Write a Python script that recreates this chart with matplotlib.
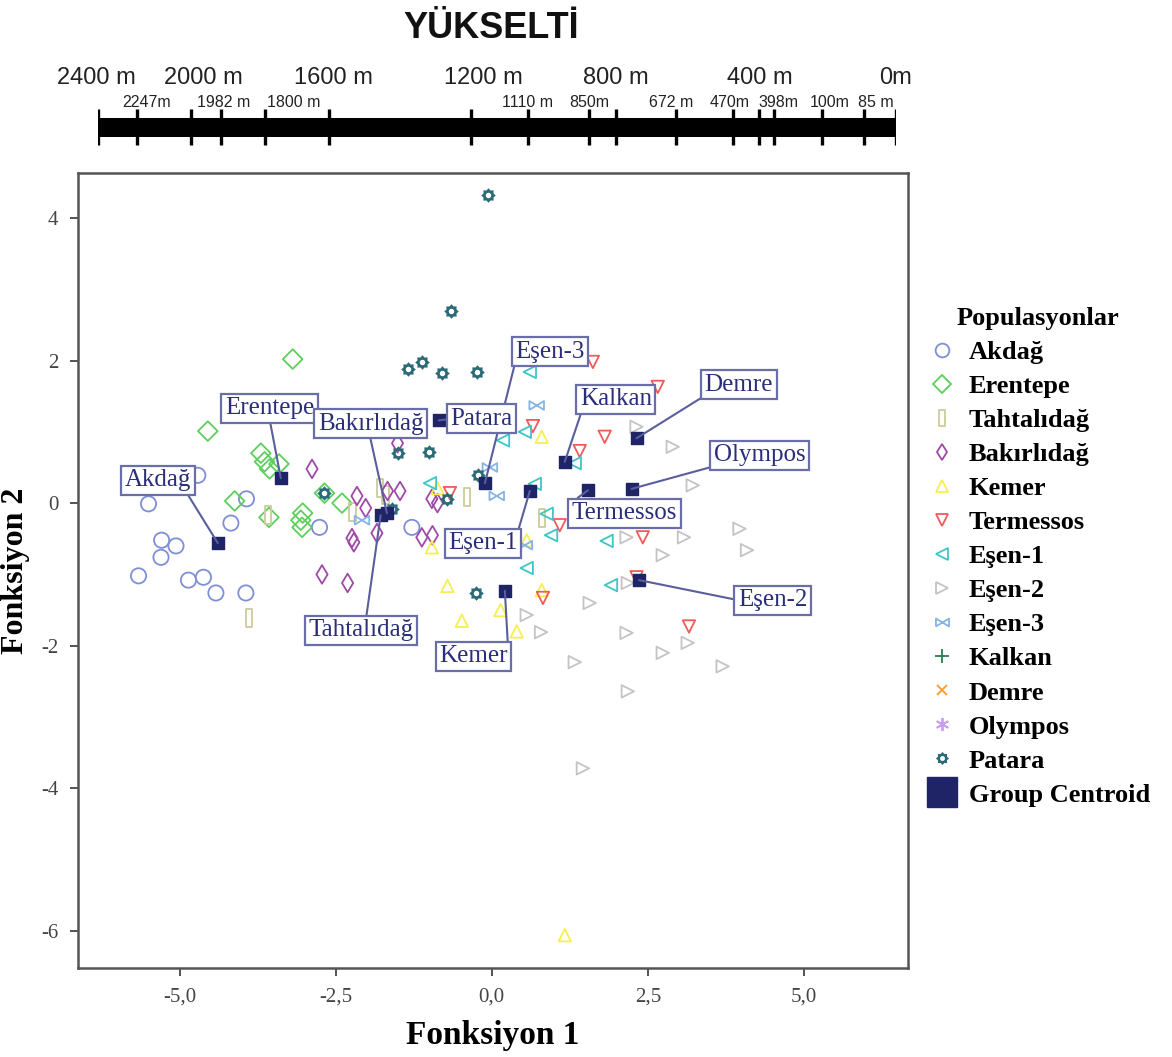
import numpy as np
import matplotlib.pyplot as plt
from matplotlib.path import Path
from matplotlib.lines import Line2D

# discriminant scores (Fonksiyon 1, Fonksiyon 2)
akdag_x = [-5.50, -4.71, -3.93, -4.18, -5.29, -5.06, -5.30, -5.66, -4.86, -4.62, -4.42, -3.94, -2.76, -1.28]
akdag_y = [-0.01, 0.39, 0.06, -0.28, -0.52, -0.60, -0.76, -1.02, -1.08, -1.04, -1.26, -1.26, -0.34, -0.34]
erentepe_x = [-3.19, -4.55, -3.70, -3.64, -3.56, -3.41, -4.12, -3.57, -3.03, -3.06, -3.04, -2.68, -2.40]
erentepe_y = [2.02, 1.01, 0.70, 0.58, 0.48, 0.55, 0.03, -0.20, -0.14, -0.24, -0.34, 0.14, 0.00]
tahtali_x = [-3.89, -3.59, -2.23, -1.79, -1.70, -0.40, 0.80]
tahtali_y = [-1.61, -0.17, -0.13, 0.21, 0.11, 0.08, -0.21]
bakirli_x = [-2.88, -2.16, -2.02, -1.67, -1.47, -1.84, -2.24, -2.21, -2.72, -2.31, -1.51, -0.96, -0.87, -1.12, -0.95]
bakirli_y = [0.48, 0.10, -0.07, 0.17, 0.17, -0.42, -0.49, -0.55, -1.00, -1.12, 0.84, 0.06, 0.00, -0.48, -0.45]
kemer_x = [-0.87, -0.96, -0.71, -0.48, 0.14, 0.40, 0.80, 0.56, 0.80, 1.17]
kemer_y = [0.21, -0.62, -1.16, -1.65, -1.50, -1.80, -1.22, -0.52, 0.93, -6.06]
termessos_x = [1.62, 2.66, 0.66, 1.81, 1.41, -0.67, 1.09, 2.42, 0.82, 3.16, 2.32]
termessos_y = [1.98, 1.63, 1.08, 0.93, 0.73, 0.14, -0.31, -0.48, -1.33, -1.73, -1.04]
esen1_x = [0.61, 0.18, 0.53, 1.33, -0.99, 0.69, 0.88, 0.95, 0.56, 1.84, 1.91]
esen1_y = [1.84, 0.88, 1.00, 0.56, 0.28, 0.27, -0.15, -0.45, -0.91, -0.53, -1.15]
esen2_x = [2.32, 2.90, 3.22, 3.97, 4.09, 2.16, 2.74, 3.08, 2.18, 1.57, 0.56, 0.79, 2.16, 1.33, 2.74, 3.14, 3.70, 2.18, 1.46]
esen2_y = [1.07, 0.79, 0.25, -0.36, -0.66, -0.48, -0.73, -0.48, -1.12, -1.40, -1.57, -1.81, -1.82, -2.23, -2.10, -1.96, -2.29, -2.64, -3.72]
esen3_x = [0.72, -0.03, 0.08, -2.08, 0.53]
esen3_y = [1.37, 0.50, 0.10, -0.24, -0.59]
kalkan_x = [2.72, 1.12, -0.16, 0.85, 0.90, 1.04, 1.49, -0.21, -0.38, -0.40, -1.91, 2.50, 4.73, 1.86, 2.45]
kalkan_y = [1.99, 1.65, 1.50, 1.33, 1.16, 0.87, 0.81, 0.74, 0.52, -0.06, 0.04, 0.25, 0.10, -0.98, -1.22]
demre_x = [2.80, 2.88, 1.51, 1.57, 1.89, 2.50, 1.99, 2.74, 2.87, 2.58]
demre_y = [3.58, 1.75, 0.93, 0.81, 0.62, 0.48, 0.32, 0.22, 0.88, -0.50]
olympos_x = [2.42, 1.73, 2.82, 2.90, 1.92, 0.16, 1.68, 2.13, 2.66, 3.01, 3.01]
olympos_y = [2.71, 1.00, 1.00, 0.66, 0.25, 0.38, -0.55, -0.83, -0.65, -0.55, -0.83]
patara_x = [-0.06, -0.66, -1.35, -1.12, -0.79, -0.24, -1.51, -1.01, -0.22, -0.71, -1.60, -2.69, -0.26]
patara_y = [4.32, 2.69, 1.88, 1.98, 1.82, 1.84, 0.70, 0.72, 0.39, 0.06, -0.08, 0.14, -1.26]

groups = ['Akdağ', 'Erentepe', 'Tahtalıdağ', 'Bakırlıdağ', 'Kemer', 'Termessos', 'Eşen-1',
          'Eşen-2', 'Eşen-3', 'Kalkan', 'Demre', 'Olympos', 'Patara']
centroid_x = [-4.39, -3.38, -1.78, -1.68, 0.21, 1.54, 0.61, 2.36, -0.11, 1.17, 2.32, 2.24, -0.85]
centroid_y = [-0.56, 0.35, -0.17, -0.14, -1.23, 0.18, 0.17, -1.08, 0.28, 0.58, 0.91, 0.20, 1.16]
label_x = [-5.35, -3.56, -2.10, -1.94, -0.29, 2.13, -0.14, 4.50, 0.93, 1.99, 3.96, 4.29, -0.16]
label_y = [0.32, 1.33, -1.78, 1.11, -2.15, -0.14, -0.56, -1.36, 2.12, 1.46, 1.66, 0.67, 1.18]
label_anchor = [(0.92, 0), (0.5, 0), (0.55, 1), (0.49, 0), (1, 1), (0, 1), (1, 1),
                (0, 0.5), (0, 0), (0.03, 0), (0, 0), (0, 0), (0, 0.5)]

# elevation scale above the plot (positions in % along the bar)
bar_elev = [2400, 2247, 2000, 1982, 1800, 1600, 1200, 1110, 850, 800, 672, 470, 400, 398, 100, 85, 0]
bar_pos = [0, 4.9, 11.7, 15.5, 21.0, 29.0, 46.8, 53.9, 61.6, 64.9, 72.5, 79.6, 82.8, 84.7, 90.7, 96.0, 100]
big_labels = ['2400 m', '2000 m', '1600 m', '1200 m', '800 m', '400 m', '0m']
big_pos = [-0.2, 13.3, 29.5, 48.3, 64.9, 82.9, 100]
site_labels = ['2247m', '1982 m', '1800 m', '1110 m', '850m', '672 m', '470m', '398m', '100m', '85 m']
site_pos = [6.1, 15.8, 24.6, 53.8, 61.6, 71.8, 79.1, 85.3, 91.7, 97.5]

# custom markers
rect = Path([(-0.35, -1), (0.35, -1), (0.35, 1), (-0.35, 1), (-0.35, -1)],
            [Path.MOVETO, Path.LINETO, Path.LINETO, Path.LINETO, Path.CLOSEPOLY])
bowtie = Path([(-1, -0.6), (-1, 0.6), (1, -0.6), (1, 0.6), (-1, -0.6)],
              [Path.MOVETO, Path.LINETO, Path.LINETO, Path.LINETO, Path.LINETO])
ang = np.linspace(0, 2 * np.pi, 17)[:-1]
rad = np.where(np.arange(16) % 2 == 0, 1.0, 0.74)
outer = np.column_stack([rad * np.cos(ang), rad * np.sin(ang)])
ang2 = -np.linspace(0, 2 * np.pi, 13)[:-1]
inner = 0.38 * np.column_stack([np.cos(ang2), np.sin(ang2)])
gear = Path(np.vstack([outer, outer[:1], inner, inner[:1]]),
            [Path.MOVETO] + [Path.LINETO] * 15 + [Path.CLOSEPOLY]
            + [Path.MOVETO] + [Path.LINETO] * 11 + [Path.CLOSEPOLY])

styles = [
    (akdag_x, akdag_y, 'o', '#7f8fd6', 120, False),
    (erentepe_x, erentepe_y, 'D', '#5ccf5c', 100, False),
    (tahtali_x, tahtali_y, rect, '#cdcc9c', 170, False),
    (bakirli_x, bakirli_y, 'd', '#a04aa8', 90, False),
    (kemer_x, kemer_y, '^', '#f4f050', 80, False),
    (termessos_x, termessos_y, 'v', '#f25a5a', 80, False),
    (esen1_x, esen1_y, '<', '#3cc6c6', 80, False),
    (esen2_x, esen2_y, '>', '#c4c4c4', 80, False),
    (esen3_x, esen3_y, bowtie, '#86b4e6', 110, False),
    (kalkan_x, kalkan_y, '+', '#2e7a4e', 110, False),
    (demre_x, demre_y, 'x', '#ff9a2a', 75, False),
    (olympos_x, olympos_y, (6, 2, 0), '#c99cee', 110, False),
    (patara_x, patara_y, gear, '#2b6b78', 110, True),
]
centroid_color = '#1f2466'
box_color = '#6a6ea8'
text_color = '#2a2e78'

plt.rcParams['font.family'] = ['Liberation Serif', 'DejaVu Serif']

fig = plt.figure(figsize=(11.72, 10.57), dpi=100)
ax = fig.add_axes([78 / 1172, 1 - 968 / 1057, 830 / 1172, 795 / 1057])

for xs, ys, mk, col, size, filled in styles:
    if filled:
        ax.scatter(xs, ys, marker=mk, s=size, c=col, linewidths=0, zorder=3)
    else:
        ax.scatter(xs, ys, marker=mk, s=size, facecolors='none', edgecolors=col,
                   linewidths=1.3, zorder=3)

ax.scatter(centroid_x, centroid_y, marker='s', s=75, c=centroid_color, zorder=5)

for name, cx, cy, lx, ly, rp in zip(groups, centroid_x, centroid_y, label_x, label_y, label_anchor):
    ax.annotate(name, xy=(cx, cy), xytext=(lx, ly), textcoords='data',
                ha='center', va='center', fontsize=18, color=text_color, zorder=6,
                bbox=dict(boxstyle='square,pad=0.14', fc='white', ec=box_color, lw=1.6),
                arrowprops=dict(arrowstyle='-', color='#5a5e9c', lw=1.5,
                                shrinkA=0, shrinkB=0, relpos=rp))

ax.set_xlim(-6.63, 6.67)
ax.set_ylim(-6.52, 4.63)
ax.set_xticks([-5, -2.5, 0, 2.5, 5])
ax.set_xticklabels(['-5,0', '-2,5', '0,0', '2,5', '5,0'])
ax.set_yticks([-6, -4, -2, 0, 2, 4])
ax.set_yticklabels(['-6', '-4', '-2', '0', '2', '4'])
ax.tick_params(labelsize=15, colors='#444444', length=6, width=1.3, pad=8)
for sp in ax.spines.values():
    sp.set_color('#555555')
    sp.set_linewidth(1.8)
ax.set_xlabel('Fonksiyon 1', fontsize=24, fontweight='bold', labelpad=10)
ax.set_ylabel('Fonksiyon 2', fontsize=23, fontweight='bold')
ax.yaxis.set_label_coords(-0.058, 0.5)

# legend
handles = []
for xs, ys, mk, col, size, filled in styles:
    if filled:
        handles.append(Line2D([], [], ls='none', marker=mk, markersize=np.sqrt(size) * 0.9,
                              markerfacecolor=col, markeredgewidth=0))
    else:
        handles.append(Line2D([], [], ls='none', marker=mk, markersize=np.sqrt(size) * 0.9,
                              markerfacecolor='none', markeredgecolor=col, color=col,
                              markeredgewidth=1.3))
handles.append(Line2D([], [], ls='none', marker='s', markersize=22, color=centroid_color))
fig.legend(handles, groups + ['Group Centroid'], loc='upper left',
           bbox_to_anchor=(912 / 1172, 1 - 294 / 1057), frameon=False,
           title='Populasyonlar', prop=dict(size=19, weight='bold'),
           title_fontproperties=dict(size=19, weight='bold'),
           handlelength=1.3, handletextpad=0.35, labelspacing=0.4, borderpad=0)

# elevation bar
axb = fig.add_axes([97.7 / 1172, 1 - 150 / 1057, 798.3 / 1172, 90 / 1057])
axb.set_xlim(0, 100)
axb.set_ylim(0, 1)
axb.axis('off')
axb.fill_between([0, 100], 0.144, 0.356, color='black', lw=0)
axb.vlines(bar_pos, 0.056, 0.456, color='black', lw=2.4)
for lab, p in zip(big_labels, big_pos):
    axb.text(p, 0.8, lab, ha='center', va='center', fontsize=17, color='#222222',
             family='Liberation Sans', clip_on=False)
for lab, p in zip(site_labels, site_pos):
    axb.text(p, 0.53, lab, ha='center', va='center', fontsize=11.5, color='#222222',
             family='Liberation Sans', clip_on=False)
fig.text(491 / 1172, 1 - 28 / 1057, 'YÜKSELTİ', ha='center', va='center', fontsize=26,
         fontweight='bold', family='Liberation Sans', color='#111111')

fig.savefig('out.png', dpi=100)
